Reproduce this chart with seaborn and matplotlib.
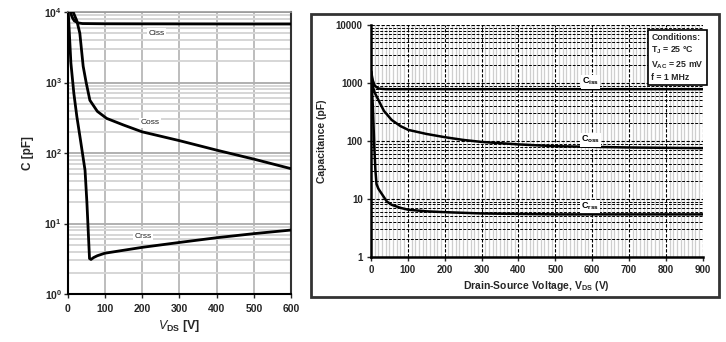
import numpy as np
import pandas as pd
import matplotlib
matplotlib.use("Agg")
import matplotlib.pyplot as plt
import matplotlib.ticker as mticker
from matplotlib.patches import Rectangle
import seaborn as sns

# ---------------- data (left chart) ----------------
l_ciss_v = [8, 12, 18, 28, 40, 100, 200, 300, 400, 500, 600]
l_ciss_c = [10000, 8500, 7500, 7000, 6850, 6800, 6780, 6770, 6760, 6750, 6750]
l_coss_v = [15, 25, 33, 42, 50, 60, 80, 105, 150, 200, 300, 400, 500, 600]
l_coss_c = [10000, 7500, 5000, 1700, 1000, 560, 390, 310, 250, 200, 150, 110, 82, 60]
l_crss_v = [2, 9, 17, 25, 35, 47, 52, 56, 59, 63, 70, 80, 100, 200, 300, 400, 500, 600]
l_crss_c = [10000, 1900, 700, 330, 150, 57, 20, 7, 3.2, 3.1, 3.3, 3.5, 3.8, 4.6, 5.4, 6.3, 7.2, 8.1]
l_xticks = [0, 100, 200, 300, 400, 500, 600]
l_yticks = [1, 10, 100, 1000, 10000]

# ---------------- data (right chart) ----------------
r_ciss_v = [0, 5, 10, 20, 40, 100, 300, 600, 900]
r_ciss_c = [1600, 1100, 900, 800, 780, 780, 780, 780, 780]
r_coss_v = [0, 5, 10, 20, 35, 56, 80, 101, 150, 200, 250, 300, 400, 500, 700, 900]
r_coss_c = [1600, 870, 680, 510, 330, 230, 180, 155, 132, 116, 104, 96, 87, 81, 77, 75]
r_crss_v = [0, 5, 9, 12, 15, 20, 30, 43, 56, 80, 101, 150, 200, 300, 500, 900]
r_crss_c = [1600, 400, 80, 31, 18, 15, 12, 9, 7.9, 7, 6.5, 6.1, 5.9, 5.6, 5.4, 5.4]
r_xticks = [0, 100, 200, 300, 400, 500, 600, 700, 800, 900]
r_yticks = [1, 10, 100, 1000, 10000]
r_ytick_labels = ["1", "10", "100", "1000", "10000"]

sns.set_style("white")
plt.rcParams['font.family'] = ['Liberation Sans', 'DejaVu Sans']
plt.rcParams['mathtext.fontset'] = 'custom'
plt.rcParams['mathtext.rm'] = 'Liberation Sans'
plt.rcParams['mathtext.bf'] = 'Liberation Sans:bold'
plt.rcParams['mathtext.it'] = 'Liberation Sans:italic'

fig = plt.figure(figsize=(7.26, 3.42), dpi=100)

# =============== LEFT ===============
axL = fig.add_axes([0.093, 0.140, 0.308, 0.825])
axL.set_yscale('log')
axL.set_xlim(0, 600)
axL.set_ylim(1, 10000)

# grid
for v in range(0, 601, 100):
    axL.axvline(v, color='#b8b8b8', lw=1.3, zorder=0)
for dec in [1, 10, 100, 1000]:
    for m in range(2, 10):
        axL.axhline(dec * m, color='#d6d6d6', lw=1.4, zorder=0)
for y in l_yticks:
    axL.axhline(y, color='#b0b0b0', lw=1.4, zorder=0)

for xs, ys in [(l_ciss_v, l_ciss_c), (l_coss_v, l_coss_c), (l_crss_v, l_crss_c)]:
    sns.lineplot(x=xs, y=ys, ax=axL, color='black', lw=2.0, sort=False, zorder=3)

axL.set_xticks(l_xticks)
axL.set_xticklabels([str(v) for v in l_xticks], fontsize=7.5, fontweight='bold')
axL.set_yticks(l_yticks)
axL.yaxis.set_major_formatter(mticker.FuncFormatter(lambda v, p: r"$\mathbf{10^{%d}}$" % int(round(np.log10(v)))))
axL.yaxis.set_minor_locator(mticker.NullLocator())
axL.tick_params(axis='y', labelsize=7.5, length=3, width=1, direction='out', left=True, pad=1)
axL.tick_params(axis='x', length=3, width=1, direction='out', bottom=True, pad=4)
for s in ['left', 'bottom', 'right']:
    axL.spines[s].set_color('black')
    axL.spines[s].set_linewidth(1.5)
axL.spines['right'].set_color('#333333')
axL.spines['top'].set_color('#999999')
axL.spines['top'].set_linewidth(1.2)
axL.set_xlabel(r"$\mathbf{\it{V}}_{\mathbf{DS}}$ [V]", fontsize=9, fontweight='bold', labelpad=3)
axL.set_ylabel("C [pF]", fontsize=8.5, fontweight='bold')
axL.yaxis.set_label_coords(-0.15, 0.5)

lab_kw = dict(fontsize=6, ha='center', va='center', color='#222222',
              bbox=dict(facecolor='white', edgecolor='none', pad=1.0), zorder=4)
axL.text(240, 5000, "Ciss", **lab_kw)
axL.text(221, 270, "Coss", **lab_kw)
axL.text(202, 6.6, "Crss", **lab_kw)

# =============== RIGHT ===============
fig.patches.append(Rectangle((0.428, 0.132), 0.562, 0.827, transform=fig.transFigure,
                             facecolor='none', edgecolor='#333333', lw=2.0, zorder=0))

axR = fig.add_axes([0.511, 0.249, 0.457, 0.678])
axR.set_yscale('log')
axR.set_xlim(0, 900)
axR.set_ylim(1, 10000)

for v in range(10, 900, 10):
    if v % 100:
        axR.axvline(v, color='#cfcfcf', lw=0.9, zorder=0)
for v in range(100, 901, 100):
    axR.axvline(v, color='black', lw=0.8, ls=(0, (3, 1.5)), zorder=1)
for dec in [1, 10, 100, 1000]:
    for m in range(2, 10):
        axR.axhline(dec * m, color='black', lw=0.7, ls=(0, (3, 1.5)), zorder=1)
for y in r_yticks[1:]:
    axR.axhline(y, color='black', lw=0.8, ls=(0, (3, 1.5)), zorder=1)

for xs, ys in [(r_ciss_v, r_ciss_c), (r_coss_v, r_coss_c), (r_crss_v, r_crss_c)]:
    sns.lineplot(x=xs, y=ys, ax=axR, color='black', lw=1.8, sort=False, zorder=3)

axR.set_xticks(r_xticks)
axR.set_xticklabels([str(v) for v in r_xticks], fontsize=7, fontweight='bold')
axR.set_yticks(r_yticks)
axR.set_yticklabels(r_ytick_labels, fontsize=7, fontweight='bold')
axR.yaxis.set_minor_locator(mticker.NullLocator())
axR.tick_params(axis='both', length=3, width=1, direction='out', left=True, bottom=True, pad=3)
for s in ['left', 'bottom']:
    axR.spines[s].set_color('black')
    axR.spines[s].set_linewidth(1.8)
for s in ['right', 'top']:
    axR.spines[s].set_visible(False)
axR.set_xlabel(r"Drain-Source Voltage, V$_{\mathbf{DS}}$ (V)", fontsize=7.5, fontweight='bold', labelpad=3)
axR.set_ylabel("Capacitance (pF)", fontsize=7.5, fontweight='bold')
axR.yaxis.set_label_coords(-0.133, 0.5)

labR = dict(fontsize=6.5, ha='center', va='center', color='black', fontweight='bold',
            bbox=dict(facecolor='white', edgecolor='none', pad=0.8), zorder=4)
axR.text(595, 1050, r"C$_{\mathbf{iss}}$", **labR)
axR.text(595, 105, r"C$_{\mathbf{oss}}$", **labR)
axR.text(595, 7.4, r"C$_{\mathbf{rss}}$", **labR)

axR.text(0.845, 0.965,
         "Conditions:\n" + r"T$_{\mathbf{J}}$ = 25 °C" + "\n" + r"V$_{\mathbf{AC}}$ = 25 mV" + "\nf = 1 MHz",
         transform=axR.transAxes, ha='left', va='top', fontsize=6.3, fontweight='bold',
         linespacing=1.35, zorder=5,
         bbox=dict(facecolor='white', edgecolor='black', lw=1.2, boxstyle='square,pad=0.35'))

fig.savefig("out.png", dpi=100)
